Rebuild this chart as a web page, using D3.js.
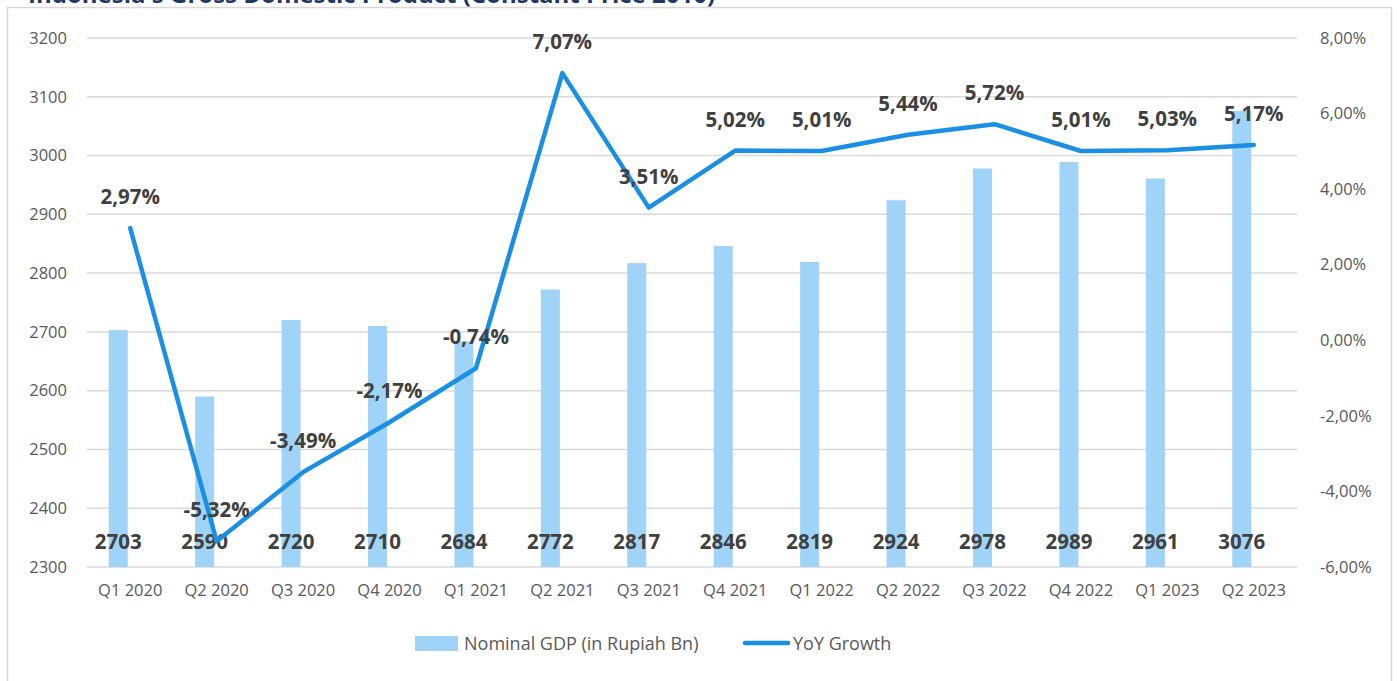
<!DOCTYPE html>
<html>
<head>
<meta charset="utf-8">
<script src="https://cdn.jsdelivr.net/npm/d3@7"></script>
<style>
  body { margin:0; background:#fff; }
  text { font-family: "Open Sans", sans-serif; }
</style>
</head>
<body>
<div id="chart-area"></div>
<script>
const quarters = ['Q1 2020','Q2 2020','Q3 2020','Q4 2020','Q1 2021','Q2 2021','Q3 2021','Q4 2021','Q1 2022','Q2 2022','Q3 2022','Q4 2022','Q1 2023','Q2 2023'];
const gdp = [2703,2590,2720,2710,2684,2772,2817,2846,2819,2924,2978,2989,2961,3076];
const growth = [2.97,-5.32,-3.49,-2.17,-0.74,7.07,3.51,5.02,5.01,5.44,5.72,5.01,5.03,5.17];
const leftTicks = [2300,2400,2500,2600,2700,2800,2900,3000,3100,3200];
const rightTicks = [-6,-4,-2,0,2,4,6,8];

const W = 1397, H = 681;
const margin = {top:38, right:100, bottom:114, left:87};
const width = W - margin.left - margin.right;
const height = H - margin.top - margin.bottom;
const FONT = "'Open Sans', sans-serif";

const svg = d3.select("#chart-area").append("svg")
    .attr("width", W).attr("height", H);

// outer frame
svg.append("rect").attr("x",7.5).attr("y",7.5).attr("width",1384).attr("height",700)
   .attr("fill","none").attr("stroke","#d9d9d9").attr("stroke-width",1.5);

// title, clipped at top like the source
svg.append("text").attr("x",28).attr("y",3)
   .attr("fill","#1f3864").attr("font-weight","bold").attr("font-size",24)
   .text("Indonesia's Gross Domestic Product (Constant Price 2010)");

const g = svg.append("g").attr("transform","translate(" + margin.left + "," + margin.top + ")");

const x = d3.scaleBand().domain(quarters).range([0,width]);
const yL = d3.scaleLinear().domain([2300,3200]).range([height,0]);
const yR = d3.scaleLinear().domain([-6,8]).range([height,0]);
const fmtPct = v => d3.format(".2f")(v).replace(".",",").replace("\u2212","-") + "%";

// gridlines
g.append("g").selectAll("line").data(leftTicks).enter().append("line")
  .attr("x1",0).attr("x2",width)
  .attr("y1",d=>yL(d)).attr("y2",d=>yL(d))
  .attr("stroke","#d9d9d9").attr("stroke-width",1.5);

function styleTicks(sel){
  sel.selectAll("text").attr("font-size",16.5).attr("fill","#595959").style("font-family",FONT);
}

// left axis
g.append("g").call(d3.axisLeft(yL).tickValues(leftTicks).tickSize(0).tickPadding(20).tickFormat(d=>String(d)))
  .call(a=>a.select(".domain").remove())
  .call(styleTicks);

// right axis
g.append("g").attr("transform","translate(" + width + ",0)")
  .call(d3.axisRight(yR).tickValues(rightTicks).tickSize(0).tickPadding(23).tickFormat(fmtPct))
  .call(a=>a.select(".domain").remove())
  .call(styleTicks);

// x axis
g.append("g").attr("transform","translate(0," + height + ")")
  .call(d3.axisBottom(x).tickSize(0).tickPadding(17))
  .call(a=>a.select(".domain").remove())
  .call(styleTicks);

// bars (offset left of category centre, as in source)
const barW = 19, barOff = -12;
const cx = d => x(d) + x.bandwidth()/2;
g.append("g").selectAll("rect").data(gdp).enter().append("rect")
  .attr("x",(d,i)=>cx(quarters[i]) + barOff - barW/2)
  .attr("width",barW)
  .attr("y",d=>yL(d))
  .attr("height",d=>height - yL(d))
  .attr("fill","#9fd3f7");

// bar labels
g.append("g").selectAll("text").data(gdp).enter().append("text")
  .attr("x",(d,i)=>cx(quarters[i]) + barOff)
  .attr("y",height - 18)
  .attr("text-anchor","middle").attr("font-size",20.5).attr("font-weight","bold")
  .attr("fill","#404040").text(d=>d);

// growth line
const line = d3.line().x((d,i)=>cx(quarters[i])).y(d=>yR(d));
g.append("path").datum(growth).attr("d",line)
  .attr("fill","none").attr("stroke","#1a8fe3").attr("stroke-width",4.5)
  .attr("stroke-linejoin","round").attr("stroke-linecap","round");

// growth labels
g.append("g").selectAll("text").data(growth).enter().append("text")
  .attr("x",(d,i)=>cx(quarters[i]))
  .attr("y",d=>yR(d) - 24)
  .attr("text-anchor","middle").attr("font-size",20.5).attr("font-weight","bold")
  .attr("fill","#404040").text(d=>fmtPct(d));

// legend
const lg = svg.append("g");
lg.append("rect").attr("x",415).attr("y",636).attr("width",43).attr("height",15).attr("fill","#9fd3f7");
lg.append("text").attr("x",464).attr("y",650).attr("font-size",18).attr("fill","#595959")
  .text("Nominal GDP (in Rupiah Bn)");
lg.append("line").attr("x1",745).attr("x2",788).attr("y1",643).attr("y2",643)
  .attr("stroke","#1a8fe3").attr("stroke-width",4.5).attr("stroke-linecap","round");
lg.append("text").attr("x",793).attr("y",650).attr("font-size",18).attr("fill","#595959")
  .text("YoY Growth");
</script>
</body>
</html>
